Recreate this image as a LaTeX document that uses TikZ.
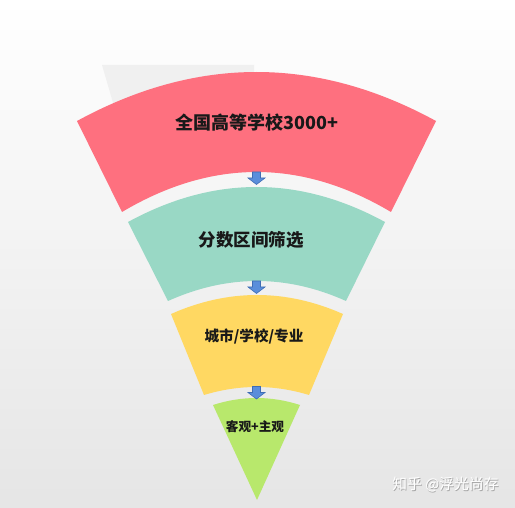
\documentclass[tikz,border=0pt]{standalone}
\usepackage{fontspec}
\newfontfamily\cjk{Noto Sans CJK SC}
\usetikzlibrary{calc}
\definecolor{bandred}{HTML}{FE707F}
\definecolor{bandteal}{HTML}{99D8C5}
\definecolor{bandyellow}{HTML}{FFD862}
\definecolor{bandgreen}{HTML}{B8E86C}
\definecolor{arrowblue}{HTML}{5A8EDB}
\definecolor{arrowedge}{HTML}{3E6DB5}
\tikzset{
  bandlabel/.style={font=\cjk\bfseries, text=black!90, inner sep=0pt},
  downarrow/.style={fill=arrowblue, draw=arrowedge, line width=0.6pt, line join=miter},
}
\newcommand\blockarrow[2]{%
  \path[downarrow] (#1-4,#2) -- (#1+4,#2) -- (#1+4,#2+6) -- (#1+8.5,#2+6) -- (#1,#2+12.5) -- (#1-8.5,#2+6) -- (#1-4,#2+6) -- cycle;}
\begin{document}
\begin{tikzpicture}[x=1pt,y=-1pt]
\useasboundingbox (0,0) rectangle (515,508);
\shade[top color=white, bottom color=black!10] (0,0) rectangle (515,508);
% faint grey shape behind the top band
\fill[black!6] (102,65) -- (254,65) -- (254,130) -- (121,130) -- cycle;
% band 1 (red)
\coordinate (rTL) at (77,121); \coordinate (rTR) at (436,121); \coordinate (rTQ) at (256.5,23);
\coordinate (rBL) at (122,212); \coordinate (rBR) at (391,212); \coordinate (rBQ) at (256.5,132);
\fill[bandred] (rTL) .. controls ($(rTL)!2/3!(rTQ)$) and ($(rTR)!2/3!(rTQ)$) .. (rTR)
  -- (rBR) .. controls ($(rBR)!2/3!(rBQ)$) and ($(rBL)!2/3!(rBQ)$) .. (rBL) -- cycle;
% band 2 (teal)
\coordinate (tTL) at (128,222); \coordinate (tTR) at (385,222); \coordinate (tTQ) at (256.5,152);
\coordinate (tBL) at (168,301); \coordinate (tBR) at (346,301); \coordinate (tBQ) at (257,261);
\fill[bandteal] (tTL) .. controls ($(tTL)!2/3!(tTQ)$) and ($(tTR)!2/3!(tTQ)$) .. (tTR)
  -- (tBR) .. controls ($(tBR)!2/3!(tBQ)$) and ($(tBL)!2/3!(tBQ)$) .. (tBL) -- cycle;
% band 3 (yellow)
\coordinate (yTL) at (171,314); \coordinate (yTR) at (343,314); \coordinate (yTQ) at (257,276);
\coordinate (yBL) at (204,395); \coordinate (yBR) at (309,395); \coordinate (yBQ) at (256.5,379);
\fill[bandyellow] (yTL) .. controls ($(yTL)!2/3!(yTQ)$) and ($(yTR)!2/3!(yTQ)$) .. (yTR)
  -- (yBR) .. controls ($(yBR)!2/3!(yBQ)$) and ($(yBL)!2/3!(yBQ)$) .. (yBL) -- cycle;
% band 4 (green)
\coordinate (gTL) at (213,405); \coordinate (gTR) at (300,405); \coordinate (gTQ) at (256.5,391);
\coordinate (gApex) at (257,500);
\fill[bandgreen] (gTL) .. controls ($(gTL)!2/3!(gTQ)$) and ($(gTR)!2/3!(gTQ)$) .. (gTR)
  -- (gApex) -- cycle;
% arrows
\blockarrow{256.5}{172}
\blockarrow{256.5}{281}
\blockarrow{256.5}{386.5}
% labels
\node[bandlabel, font=\cjk\bfseries\fontsize{18}{20}\selectfont] (l1) at (257,123) {全国高等学校3000+};
\node[bandlabel, font=\cjk\bfseries\fontsize{17.5}{20}\selectfont] (l2) at (251,240) {分数区间筛选};
\node[bandlabel, font=\cjk\bfseries\fontsize{14.6}{17}\selectfont] (l3) at (254,336) {城市/学校/专业};
\node[bandlabel, font=\cjk\bfseries\fontsize{12.6}{15}\selectfont] (l4) at (255,427) {客观+主观};
% watermark
\node[font=\cjk\fontsize{14.8}{17}\selectfont, text=black!35, inner sep=0pt] (wm0) at (446.3,485.6) {知乎 @浮光尚存};
\node[font=\cjk\fontsize{14.8}{17}\selectfont, text=white, inner sep=0pt] (wm) at (445.5,484.8) {知乎 @浮光尚存};
\end{tikzpicture}
\end{document}
